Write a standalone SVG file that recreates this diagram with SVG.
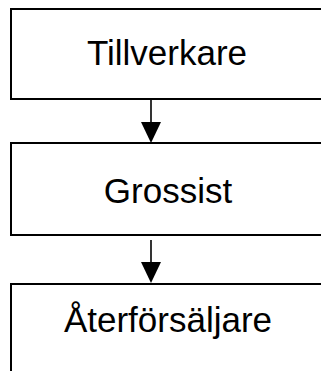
<svg xmlns="http://www.w3.org/2000/svg" width="321" height="371" viewBox="0 0 321 371">
<style>
.box{fill:#fff;stroke:#000;stroke-width:2}
.lbl{font-family:"Liberation Sans",Arial,sans-serif;font-size:35px;fill:#000;text-anchor:middle}
.conn{stroke:#000;stroke-width:1.6;fill:none}
.head{fill:#000}
</style>
<rect width="321" height="371" fill="#fff"/>
<g id="n1"><rect class="box" x="11" y="9" width="314" height="90"/><text class="lbl" x="167" y="65">Tillverkare</text></g>
<g id="n2"><rect class="box" x="11" y="143" width="314" height="92"/><text class="lbl" x="168" y="203">Grossist</text></g>
<g id="n3"><rect class="box" x="11" y="284" width="314" height="100"/><text class="lbl" x="168" y="332">Återförsäljare</text></g>
<g id="connectors">
<line class="conn" x1="151" y1="100" x2="151" y2="124"/>
<polygon class="head" points="141,122 161,122 151,143"/>
<line class="conn" x1="151" y1="240" x2="151" y2="264"/>
<polygon class="head" points="141,262 161,262 151,283"/>
</g>
</svg>
